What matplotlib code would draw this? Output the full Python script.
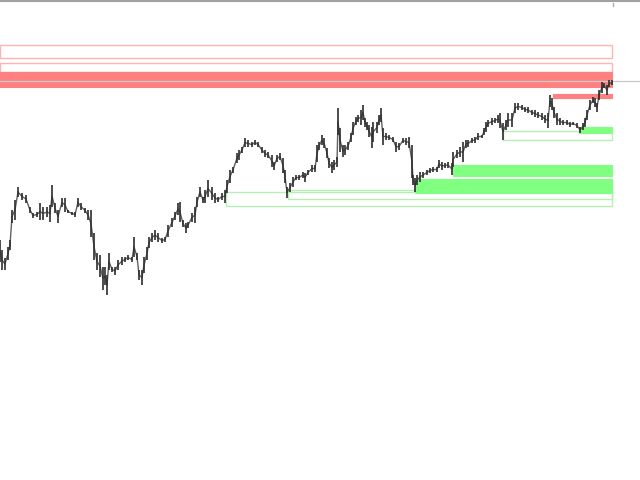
import matplotlib
matplotlib.use("Agg")
import matplotlib.pyplot as plt
from matplotlib.patches import Rectangle

# bar time positions and high/low prices (price index units)
bar_t = [0, 2, 5, 8, 10, 12, 15, 18, 22, 26, 30, 33, 37, 40, 43, 47, 50, 52, 55, 58,
         62, 65, 68, 72, 75, 78, 81, 85, 88, 91, 94, 97, 100, 103, 105, 107, 109, 112, 115, 118,
         122, 125, 128, 132, 134, 137, 139, 142, 144, 147, 149, 152, 155, 158, 162, 165, 168, 172, 175, 178,
         180, 183, 186, 188, 192, 195, 197, 200, 203, 205, 208, 212, 215, 218, 222, 225, 227, 230, 233, 237,
         239, 242, 245, 248, 252, 255, 258, 262, 265, 268, 272, 274, 277, 280, 283, 285, 287, 290, 293, 296,
         299, 303, 305, 308, 312, 315, 317, 319, 322, 324, 327, 329, 332, 334, 337, 338, 340, 343, 345, 348,
         351, 353, 356, 358, 361, 363, 365, 367, 369, 372, 373, 377, 379, 381, 383, 386, 389, 393, 396, 399,
         403, 406, 409, 412, 413, 415, 417, 420, 423, 427, 430, 433, 437, 439, 442, 445, 448, 452, 453, 457,
         460, 463, 466, 468, 472, 475, 478, 482, 484, 486, 488, 492, 495, 498, 500, 503, 506, 508, 512, 515,
         518, 522, 525, 528, 532, 535, 538, 542, 545, 548, 550, 552, 554, 557, 560, 563, 567, 570, 573, 577,
         580, 583, 585, 587, 590, 593, 595, 597, 599, 602, 604, 607, 609, 612]

bar_high = [260, 250, 242, 253, 260, 290, 300, 313, 307, 305, 293, 287, 288, 297, 293, 293, 295, 315, 297, 290,
            302, 302, 290, 288, 288, 302, 297, 292, 290, 290, 267, 247, 245, 233, 233, 225, 247, 233, 233, 240,
            243, 243, 245, 243, 263, 247, 230, 230, 243, 253, 263, 267, 270, 267, 262, 263, 275, 282, 288, 297,
            298, 280, 277, 278, 287, 293, 303, 313, 303, 310, 320, 313, 307, 303, 307, 310, 320, 330, 333, 347,
            350, 353, 362, 360, 358, 360, 358, 353, 350, 348, 345, 338, 345, 347, 342, 330, 313, 317, 323, 325,
            325, 328, 327, 330, 335, 335, 355, 358, 365, 362, 352, 342, 338, 340, 343, 392, 372, 355, 355, 358,
            367, 378, 383, 385, 390, 395, 382, 378, 375, 373, 378, 378, 385, 392, 372, 367, 365, 363, 358, 357,
            362, 362, 363, 355, 325, 322, 325, 328, 328, 330, 332, 333, 333, 340, 338, 337, 338, 337, 348, 350,
            353, 358, 360, 360, 362, 363, 367, 365, 372, 378, 380, 382, 382, 385, 387, 377, 380, 387, 387, 397,
            397, 395, 393, 393, 390, 390, 388, 387, 385, 387, 405, 402, 393, 387, 382, 380, 380, 378, 378, 377,
            373, 377, 382, 390, 400, 403, 402, 397, 410, 418, 417, 415, 420, 420]

bar_low = [238, 230, 230, 240, 250, 277, 280, 303, 300, 297, 287, 282, 283, 280, 280, 283, 278, 293, 287, 277,
           293, 288, 287, 285, 283, 293, 290, 287, 280, 263, 240, 230, 223, 210, 215, 205, 230, 228, 225, 230,
           235, 238, 240, 238, 243, 240, 220, 215, 227, 240, 252, 258, 260, 258, 257, 258, 263, 273, 280, 285,
           278, 273, 267, 272, 278, 277, 293, 303, 297, 297, 303, 300, 297, 298, 300, 297, 307, 317, 327, 337,
           340, 347, 353, 353, 353, 355, 353, 347, 343, 342, 333, 330, 338, 340, 327, 317, 302, 308, 313, 320,
           320, 322, 318, 325, 328, 328, 338, 350, 355, 352, 342, 332, 327, 330, 333, 365, 348, 343, 345, 350,
           358, 365, 375, 378, 375, 380, 373, 370, 363, 352, 358, 367, 375, 378, 355, 360, 360, 358, 348, 350,
           357, 355, 352, 322, 315, 308, 315, 318, 322, 325, 327, 328, 328, 332, 330, 332, 332, 325, 333, 342,
           343, 338, 352, 353, 357, 357, 360, 362, 365, 368, 373, 375, 377, 377, 372, 360, 370, 373, 373, 387,
           390, 390, 388, 387, 385, 383, 382, 380, 377, 372, 393, 390, 382, 375, 375, 375, 375, 373, 375, 372,
           367, 370, 373, 380, 390, 397, 393, 388, 400, 407, 412, 405, 413, 415]

# zones: (start time, end time, top price, bottom price)
supply_fill = [(0, 612, 428, 413), (553, 612, 406, 402)]
supply_outline = [(0, 612, 455, 442), (0, 612, 437, 428)]
demand_fill = [(453, 612, 335, 324), (415, 612, 321, 307), (579, 612, 373, 367)]
demand_outline = [(226, 612, 308, 294), (288, 612, 310, 301), (503, 612, 369, 360)]
current_price = 419.5

fig = plt.figure(figsize=(6.4, 4.8), dpi=100)
ax = fig.add_axes([0, 0, 1, 1])
ax.set_xlim(0, 640)
ax.set_ylim(20, 500)
ax.axis("off")

for (x0, x1, top, bot) in supply_outline:
    ax.add_patch(Rectangle((x0, bot), x1 - x0, top - bot, facecolor="none",
                           edgecolor="#ffb4b4", lw=1.0, zorder=2))
for (x0, x1, top, bot) in supply_fill:
    ax.add_patch(Rectangle((x0, bot), x1 - x0, top - bot, facecolor="#ff8080",
                           edgecolor="#ff8080", lw=0.8, zorder=2))
for (x0, x1, top, bot) in demand_outline:
    ax.add_patch(Rectangle((x0, bot), x1 - x0, top - bot, facecolor="none",
                           edgecolor="#b4f0b4", lw=1.0, zorder=2))
for (x0, x1, top, bot) in demand_fill:
    ax.add_patch(Rectangle((x0, bot), x1 - x0, top - bot, facecolor="#80ff80",
                           edgecolor="#80ff80", lw=0.8, zorder=2))

ax.axhline(current_price, color="#c8c8c8", lw=0.9, zorder=3)
ax.axhline(498.8, color="#a0a0a0", lw=1.5, zorder=3)
ax.plot([613, 613], [494, 497], color="#b0b0b0", lw=1.0, zorder=3)

mid = [(h + l) / 2 for h, l in zip(bar_high, bar_low)]
ax.plot(bar_t, mid, color="#505050", lw=1.0, zorder=3, alpha=0.9)
ax.vlines(bar_t, bar_low, bar_high, colors="#2e2e2e", lw=1.2, zorder=4)

fig.savefig("out.png", dpi=100)
